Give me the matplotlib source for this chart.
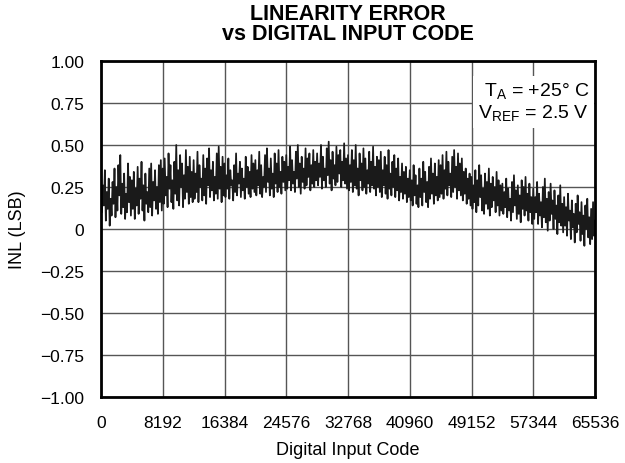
import numpy as np
import matplotlib.pyplot as plt

plt.rcParams['font.family'] = ['Liberation Sans', 'DejaVu Sans']

# INL trace, one value every 128 codes (32 per 4096-code row)
inl = [
    0.32, 0.10, 0.26, 0.14, 0.35, 0.05, 0.22, 0.12, 0.30, 0.02, 0.18, 0.08, 0.28, 0.15, 0.36, 0.07,
    0.25, 0.11, 0.38, 0.20, 0.44, 0.09, 0.27, 0.13, 0.33, 0.06, 0.21, 0.10, 0.39, 0.16, 0.31, 0.08,
    0.29, 0.12, 0.34, 0.06, 0.24, 0.14, 0.37, 0.09, 0.30, 0.18, 0.40, 0.11, 0.26, 0.05, 0.33, 0.15,
    0.22, 0.10, 0.36, 0.13, 0.39, 0.08, 0.28, 0.17, 0.35, 0.12, 0.25, 0.09, 0.38, 0.16, 0.41, 0.11,
    0.36, 0.15, 0.42, 0.20, 0.31, 0.13, 0.45, 0.24, 0.38, 0.16, 0.29, 0.12, 0.40, 0.21, 0.50, 0.17,
    0.35, 0.14, 0.44, 0.25, 0.39, 0.13, 0.32, 0.18, 0.47, 0.22, 0.37, 0.15, 0.43, 0.19, 0.34, 0.16,
    0.41, 0.18, 0.33, 0.22, 0.46, 0.16, 0.38, 0.25, 0.30, 0.17, 0.44, 0.20, 0.36, 0.15, 0.42, 0.26,
    0.48, 0.19, 0.35, 0.23, 0.40, 0.17, 0.31, 0.21, 0.45, 0.18, 0.49, 0.24, 0.37, 0.16, 0.43, 0.20,
    0.39, 0.19, 0.32, 0.24, 0.42, 0.18, 0.35, 0.26, 0.29, 0.17, 0.38, 0.22, 0.45, 0.20, 0.33, 0.27,
    0.40, 0.19, 0.36, 0.23, 0.30, 0.18, 0.43, 0.25, 0.37, 0.21, 0.34, 0.19, 0.44, 0.24, 0.39, 0.22,
    0.41, 0.20, 0.35, 0.26, 0.46, 0.21, 0.38, 0.19, 0.31, 0.25, 0.44, 0.22, 0.48, 0.28, 0.36, 0.20,
    0.42, 0.24, 0.33, 0.19, 0.45, 0.27, 0.39, 0.22, 0.47, 0.25, 0.34, 0.21, 0.43, 0.28, 0.40, 0.23,
    0.44, 0.24, 0.37, 0.29, 0.49, 0.23, 0.41, 0.27, 0.34, 0.22, 0.46, 0.30, 0.50, 0.25, 0.39, 0.21,
    0.43, 0.28, 0.36, 0.24, 0.48, 0.26, 0.42, 0.31, 0.45, 0.23, 0.38, 0.27, 0.47, 0.25, 0.40, 0.29,
    0.45, 0.26, 0.39, 0.31, 0.50, 0.24, 0.43, 0.29, 0.36, 0.25, 0.48, 0.32, 0.52, 0.27, 0.41, 0.23,
    0.46, 0.30, 0.38, 0.26, 0.49, 0.28, 0.44, 0.33, 0.47, 0.25, 0.40, 0.29, 0.51, 0.27, 0.42, 0.24,
    0.44, 0.23, 0.38, 0.28, 0.47, 0.22, 0.41, 0.26, 0.50, 0.24, 0.36, 0.20, 0.45, 0.29, 0.39, 0.23,
    0.48, 0.25, 0.42, 0.21, 0.35, 0.27, 0.46, 0.22, 0.40, 0.26, 0.49, 0.24, 0.37, 0.20, 0.43, 0.25,
    0.41, 0.22, 0.46, 0.19, 0.35, 0.26, 0.43, 0.21, 0.38, 0.18, 0.47, 0.24, 0.33, 0.20, 0.40, 0.25,
    0.44, 0.19, 0.36, 0.23, 0.42, 0.17, 0.31, 0.22, 0.39, 0.18, 0.34, 0.21, 0.37, 0.16, 0.30, 0.19,
    0.35, 0.17, 0.29, 0.14, 0.38, 0.20, 0.32, 0.15, 0.26, 0.13, 0.36, 0.19, 0.30, 0.14, 0.40, 0.22,
    0.34, 0.16, 0.28, 0.13, 0.37, 0.18, 0.42, 0.21, 0.33, 0.15, 0.39, 0.20, 0.31, 0.17, 0.41, 0.19,
    0.38, 0.21, 0.44, 0.18, 0.35, 0.24, 0.46, 0.20, 0.40, 0.26, 0.33, 0.19, 0.43, 0.22, 0.47, 0.25,
    0.37, 0.18, 0.45, 0.23, 0.39, 0.20, 0.42, 0.17, 0.34, 0.21, 0.36, 0.15, 0.30, 0.18, 0.33, 0.14,
    0.31, 0.12, 0.26, 0.16, 0.35, 0.10, 0.29, 0.14, 0.38, 0.19, 0.32, 0.11, 0.24, 0.09, 0.33, 0.15,
    0.28, 0.12, 0.36, 0.08, 0.27, 0.13, 0.31, 0.17, 0.25, 0.10, 0.34, 0.14, 0.29, 0.08, 0.26, 0.11,
    0.27, 0.09, 0.22, 0.13, 0.30, 0.07, 0.24, 0.11, 0.18, 0.05, 0.28, 0.10, 0.32, 0.14, 0.23, 0.06,
    0.26, 0.09, 0.20, 0.04, 0.29, 0.12, 0.25, 0.08, 0.31, 0.11, 0.21, 0.05, 0.27, 0.10, 0.19, 0.03,
    0.24, 0.06, 0.19, 0.10, 0.28, 0.03, 0.21, 0.08, 0.16, 0.01, 0.25, 0.07, 0.30, 0.04, 0.18, -0.01,
    0.22, 0.05, 0.27, 0.09, 0.17, 0.00, 0.23, 0.06, 0.14, -0.03, 0.20, 0.04, 0.26, 0.02, 0.15, -0.02,
    0.19, 0.02, 0.13, -0.04, 0.21, 0.05, 0.11, -0.06, 0.17, 0.01, 0.09, -0.08, 0.15, -0.02, 0.20, 0.03,
    0.10, -0.07, 0.16, -0.03, 0.08, -0.10, 0.14, 0.00, 0.18, -0.05, 0.07, -0.09, 0.12, -0.06, 0.16, -0.04,
    0.05,
]
codes = np.arange(len(inl)) * 128

x_ticks = [0, 8192, 16384, 24576, 32768, 40960, 49152, 57344, 65536]
y_ticks = [1.00, 0.75, 0.50, 0.25, 0, -0.25, -0.50, -0.75, -1.00]
y_labels = ["1.00", "0.75", "0.50", "0.25", "0", "\u22120.25", "\u22120.50", "\u22120.75", "\u22121.00"]

fig = plt.figure(figsize=(6.25, 4.64), dpi=100)
ax = fig.add_axes([0.1616, 0.1422, 0.7904, 0.7242])

ax.plot(codes, inl, color="#1a1a1a", linewidth=1.25, zorder=3)

ax.set_xlim(0, 65536)
ax.set_ylim(-1.0, 1.0)
ax.set_xticks(x_ticks)
ax.set_xticklabels([str(t) for t in x_ticks])
ax.set_yticks(y_ticks)
ax.set_yticklabels(y_labels)
ax.tick_params(length=0, labelsize=12.5)
ax.tick_params(axis="x", pad=13)
ax.tick_params(axis="y", pad=12)
ax.grid(True, color="#555555", linewidth=1.0, zorder=1)
for s in ax.spines.values():
    s.set_linewidth(2.0)
    s.set_zorder(4)

ax.set_xlabel("Digital Input Code", fontsize=13, labelpad=8)
ax.set_ylabel("INL (LSB)", fontsize=13, labelpad=10)
ax.set_title("LINEARITY ERROR\nvs DIGITAL INPUT CODE", fontsize=15.5,
             fontweight="bold", linespacing=0.95, pad=16)

ax.text(0.988, 0.878, "T$_\\mathregular{A}$ = +25\u00b0 C\nV$_\\mathregular{REF}$ = 2.5 V",
        transform=ax.transAxes, ha="right", va="center", fontsize=14,
        linespacing=1.1, zorder=5,
        bbox=dict(boxstyle="square,pad=0.25", facecolor="white", edgecolor="none"))

fig.savefig("out.png", dpi=100)
